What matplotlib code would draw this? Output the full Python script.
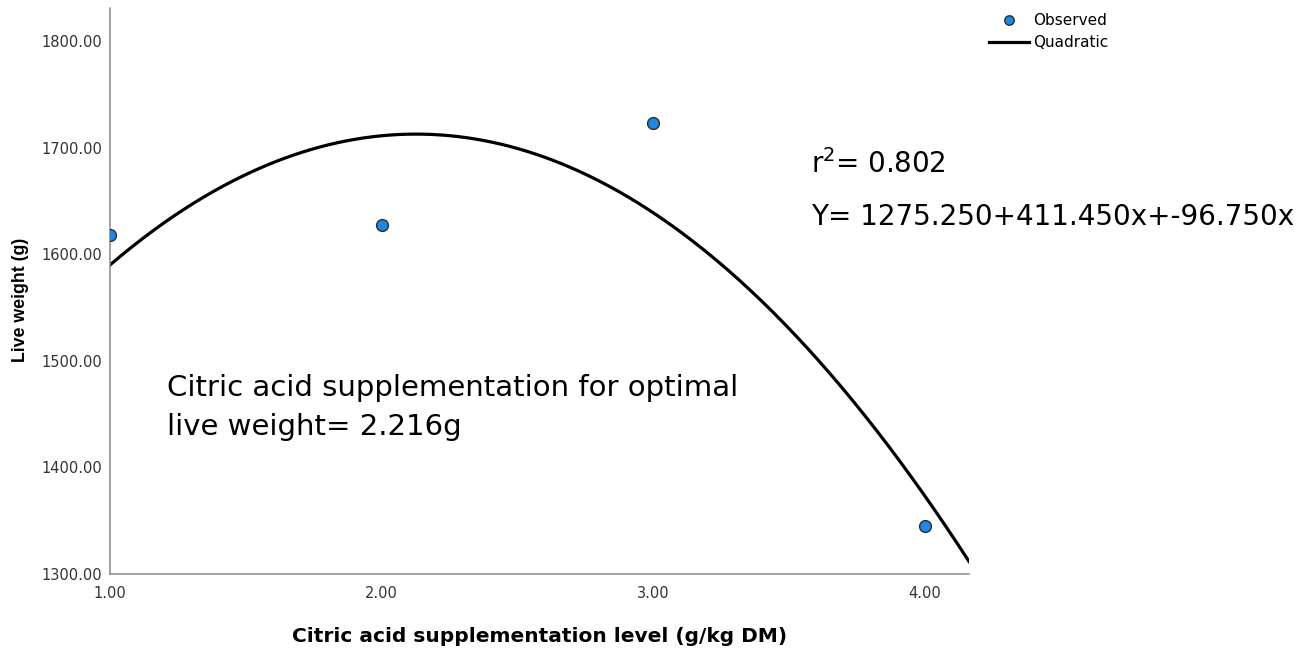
import matplotlib
matplotlib.use('Agg')
import matplotlib.pyplot as plt
import numpy as np

# observed data (citric acid level vs live weight)
level = [1.0, 2.0, 3.0, 4.0]
live_weight = [1618, 1627, 1723, 1345]
x_ticks = [1.0, 2.0, 3.0, 4.0]
y_ticks = [1300, 1400, 1500, 1600, 1700, 1800]

# quadratic fit, like the SPSS curve estimation
coef = np.polyfit(level, live_weight, 2)
xs = np.linspace(1.0, 4.162, 300)
ys = np.polyval(coef, xs)

fig = plt.figure(figsize=(13.06, 6.53), dpi=100)
ax = fig.add_axes([110/1306, 1-574/653, 859/1306, 566/653])

ax.plot(level, live_weight, 'o', ms=8.5, mfc='#1e88e5', mec='#2b2b2b', mew=1.0,
        label='Observed', zorder=3)
ax.plot(xs, ys, color='black', lw=2.3, label='Quadratic', zorder=2)

ax.set_xlim(1.0, 4.162)
ax.set_ylim(1300, 1831)
ax.set_xticks(x_ticks)
ax.set_xticklabels(['%.2f' % v for v in x_ticks])
ax.set_yticks(y_ticks)
ax.set_yticklabels(['%.2f' % v for v in y_ticks])
ax.tick_params(axis='both', length=0, labelsize=10.5, labelcolor='#333333')
ax.tick_params(axis='y', pad=5.5)
ax.tick_params(axis='x', pad=8.5)

for s in ['top', 'right']:
    ax.spines[s].set_visible(False)
for s in ['left', 'bottom']:
    ax.spines[s].set_color('#8a8a8a')
    ax.spines[s].set_linewidth(1.1)

ax.set_xlabel('Citric acid supplementation level (g/kg DM)', fontsize=14.5,
              fontweight='bold')
ax.xaxis.set_label_coords(0.5, -0.093)
ax.set_ylabel('Live weight (g)', fontsize=12.8, fontweight='bold',
              family='Liberation Sans')
ax.yaxis.set_label_coords(-0.094, 0.484)

# annotations
ax.text(3.58, 1685, r'$\mathregular{r^2}$= 0.802', fontsize=20, va='center')
ax.text(3.58, 1635, 'Y= 1275.250+411.450x+-96.750x', fontsize=20, va='center')
ax.text(1.21, 1456, 'Citric acid supplementation for optimal\nlive weight= 2.216g',
        fontsize=21, va='center', linespacing=1.48)

ax.legend(loc='upper left', bbox_to_anchor=(989/1306, 1-13/653),
          bbox_transform=fig.transFigure, frameon=False, borderaxespad=0,
          borderpad=0, handlelength=2.6, handletextpad=0.3, labelspacing=0.45,
          fontsize=11, markerscale=0.8)

fig.savefig('out.png', dpi=100)
